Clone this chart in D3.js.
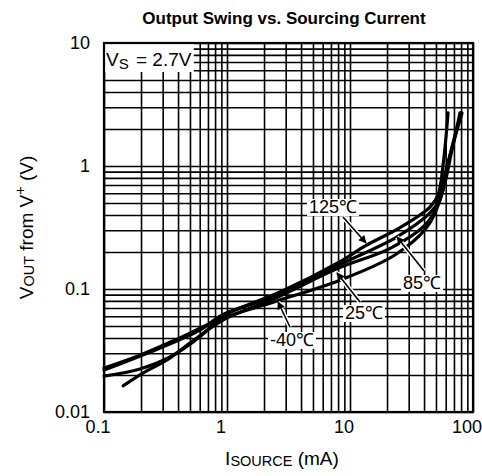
<!DOCTYPE html>
<html>
<head>
<meta charset="utf-8">
<script src="https://cdn.jsdelivr.net/npm/d3@7"></script>
<style>body{margin:0;background:#fff}</style>
</head>
<body>
<div id="chart"></div>
<script>
// values: [source current mA, swing V]
const curve125 = [[0.1,0.0196],[0.196,0.0224],[0.344,0.028],[0.603,0.041],[0.93,0.06],[1.54,0.0755],[2.7,0.0945],[8.3,0.167],[13.5,0.226],[25.5,0.316],[44.7,0.464],[51.9,0.58],[57,1.0],[62.7,2.7]];
const curve85 = [[0.1,0.0219],[0.237,0.0307],[0.603,0.0464],[0.93,0.062],[2.7,0.0905],[8.3,0.158],[24.1,0.265],[44.7,0.415],[54,0.54],[67.5,1.35],[78.4,2.7]];
const curve25 = [[0.143,0.0163],[0.207,0.0207],[0.325,0.0265],[0.5,0.0364],[0.93,0.056],[2.7,0.0877],[7.8,0.146],[21,0.213],[40.7,0.331],[50,0.45],[58,0.8],[70,1.6],[81.4,2.7]];
const curveM40 = [[0.1,0.0228],[0.196,0.029],[0.364,0.0378],[0.93,0.058],[2.55,0.0799],[8.3,0.118],[23.2,0.189],[42.3,0.319],[54,0.53],[66,1.3],[80,2.7]];

const xTicks = [0.1, 1, 10, 100];
const yTicks = [0.01, 0.1, 1, 10];

// annotation labels: text, text centre [mA, V], arrow start, arrow tip
const notes = [
  {text: "125℃", at: [7.28, 0.464], from: [8.77, 0.385], to: [13.5, 0.2366]},
  {text: "85℃", at: [38.5, 0.112], from: [40, 0.14], to: [24.1, 0.265]},
  {text: "25℃", at: [13, 0.0638], from: [12.05, 0.0784], to: [7.84, 0.135]},
  {text: "-40℃", at: [3.38, 0.0385], from: [3.25, 0.0491], to: [2.6, 0.0784]}
];

const width = 482, height = 476;
const margin = {top: 43, right: 9, bottom: 64, left: 104};
const font = "Liberation Sans, Arial, sans-serif";

const svg = d3.select("#chart").append("svg")
  .attr("width", width)
  .attr("height", height)
  .attr("font-family", font);

const x = d3.scaleLog().domain([0.1, 100]).range([margin.left, width - margin.right]);
const y = d3.scaleLog().domain([0.01, 10]).range([height - margin.bottom, margin.top]);

// every 1..9 step in each decade
const gridX = [], gridY = [];
[0.1, 1, 10].forEach(d => { for (let k = 1; k < 10; k++) gridX.push(d * k); });
gridX.push(100);
[0.01, 0.1, 1].forEach(d => { for (let k = 1; k < 10; k++) gridY.push(d * k); });
gridY.push(10);

const plotH = y(0.01) - y(10), plotW = x(100) - x(0.1);

svg.append("g")
  .attr("transform", `translate(0,${y(0.01)})`)
  .call(d3.axisBottom(x).tickValues(gridX).tickSize(-plotH).tickFormat(""))
  .call(g => g.select(".domain").remove())
  .selectAll("line").attr("stroke", "#000").attr("stroke-width", 1.6);

svg.append("g")
  .attr("transform", `translate(${x(0.1)},0)`)
  .call(d3.axisLeft(y).tickValues(gridY).tickSize(-plotW).tickFormat(""))
  .call(g => g.select(".domain").remove())
  .selectAll("line").attr("stroke", "#000").attr("stroke-width", 1.6);

// VS box
const vsBox = svg.append("rect");
const vs = svg.append("text")
  .attr("x", x(0.1) + 2)
  .attr("y", y(10) + 23)
  .attr("font-size", 19);
vs.append("tspan").text("V");
vs.append("tspan").attr("font-size", 15).attr("dy", 3).text("S");
vs.append("tspan").attr("dy", -3).attr("dx", 2).text(" = 2.7V");
const vb = vs.node().getBBox();
vsBox
  .attr("x", x(0.1)).attr("y", y(10))
  .attr("width", vb.x + vb.width + 2 - x(0.1))
  .attr("height", 29)
  .attr("fill", "#fff");

svg.append("rect")
  .attr("x", x(0.1)).attr("y", y(10))
  .attr("width", plotW).attr("height", plotH)
  .attr("fill", "none").attr("stroke", "#000").attr("stroke-width", 2.2);

// tick labels
svg.append("g").selectAll("text")
  .data(xTicks).join("text")
  .attr("x", d => x(d) - 6)
  .attr("y", y(0.01) + 21)
  .attr("text-anchor", "middle")
  .attr("font-size", 18)
  .text(d => d);

svg.append("g").selectAll("text")
  .data(yTicks).join("text")
  .attr("x", x(0.1) - 14)
  .attr("y", d => y(d) + 6)
  .attr("text-anchor", "end")
  .attr("font-size", 18)
  .text(d => d);

// curves
const line = d3.line()
  .x(d => x(d[0]))
  .y(d => y(d[1]))
  .curve(d3.curveCatmullRom);

[curveM40, curve25, curve85, curve125].forEach(c => {
  svg.append("path").datum(c).attr("d", line)
    .attr("fill", "none").attr("stroke", "#000").attr("stroke-width", 3.2)
    .attr("stroke-linecap", "round");
});

// arrows and labels
svg.append("defs").append("marker")
  .attr("id", "head")
  .attr("viewBox", "0 0 10 10")
  .attr("refX", 9).attr("refY", 5)
  .attr("markerWidth", 5.5).attr("markerHeight", 5)
  .attr("markerUnits", "strokeWidth")
  .attr("orient", "auto")
  .append("path").attr("d", "M0,0L10,5L0,10Z").attr("fill", "#000");

notes.forEach(n => {
  svg.append("line")
    .attr("x1", x(n.from[0])).attr("y1", y(n.from[1]))
    .attr("x2", x(n.to[0])).attr("y2", y(n.to[1]))
    .attr("stroke", "#fff").attr("stroke-width", 4.5);
  svg.append("line")
    .attr("x1", x(n.from[0])).attr("y1", y(n.from[1]))
    .attr("x2", x(n.to[0])).attr("y2", y(n.to[1]))
    .attr("stroke", "#000").attr("stroke-width", 1.6)
    .attr("marker-end", "url(#head)");
  const box = svg.append("rect");
  const t = svg.append("text")
    .attr("x", x(n.at[0])).attr("y", y(n.at[1]) + 6)
    .attr("text-anchor", "middle")
    .attr("font-size", 18)
    .text(n.text);
  const b = t.node().getBBox();
  box.attr("x", b.x - 2).attr("y", b.y + 2)
    .attr("width", b.width + 4).attr("height", b.height - 3)
    .attr("fill", "#fff");
});

// title and axis titles
svg.append("text")
  .attr("x", 284).attr("y", 24)
  .attr("text-anchor", "middle")
  .attr("font-size", 17).attr("font-weight", "bold")
  .text("Output Swing vs. Sourcing Current");

const xt = svg.append("text")
  .attr("x", 282).attr("y", 465)
  .attr("text-anchor", "middle")
  .attr("font-size", 19);
xt.append("tspan").text("I");
xt.append("tspan").attr("font-size", 14.5).attr("dy", 1).text("SOURCE");
xt.append("tspan").attr("dy", -1).text(" (mA)");

const yt = svg.append("text")
  .attr("transform", `translate(33,${(y(0.01) + y(10)) / 2}) rotate(-90)`)
  .attr("text-anchor", "middle")
  .attr("font-size", 19);
yt.append("tspan").text("V");
yt.append("tspan").attr("font-size", 14.5).attr("dy", 1).text("OUT");
yt.append("tspan").attr("dy", -1).text(" from V");
yt.append("tspan").attr("font-size", 14.5).attr("dy", -8).text("+");
yt.append("tspan").attr("dy", 8).text(" (V)");
</script>
</body>
</html>
